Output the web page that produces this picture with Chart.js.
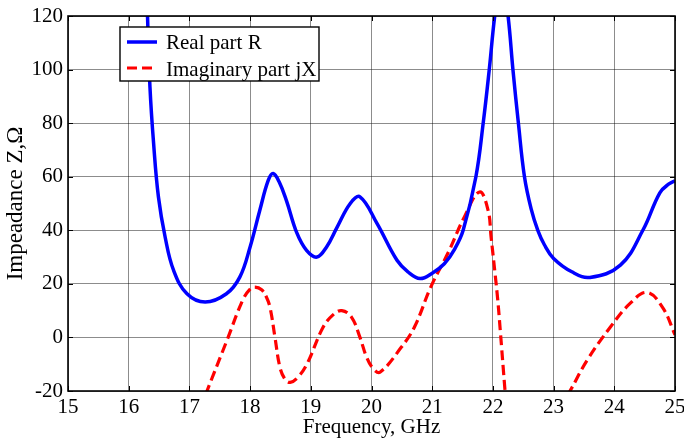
<!DOCTYPE html>
<html>
<head>
<meta charset="utf-8">
<script src="https://cdn.jsdelivr.net/npm/chart.js@4/dist/chart.umd.min.js"></script>
<style>
  html, body { margin: 0; padding: 0; background: #fff; }
  #wrap { width: 684px; height: 438px; }
</style>
</head>
<body>
<div id="wrap"><canvas id="impedanceChart" width="684" height="438"></canvas></div>
<script>
// Real part R (Ohm) vs frequency (GHz)
const realFreq = [16.27, 16.31, 16.35, 16.41, 16.49, 16.60, 16.74, 16.96, 17.26, 17.61, 17.83, 18.0, 18.16, 18.30, 18.38, 18.48, 18.6, 18.77, 18.93, 19.1, 19.26, 19.43, 19.65, 19.81, 20.09, 20.42, 20.6, 20.8, 21.0, 21.2, 21.37, 21.51, 21.72, 21.84, 21.94, 22.03, 22.14, 22.25, 22.33, 22.42, 22.52, 22.63, 22.74, 22.85, 23.0, 23.3, 23.6, 24.1, 24.47, 24.75, 24.9, 25.0];
const realR = [150, 120, 93.6, 72.5, 52.4, 37.5, 25, 16.3, 13.2, 16.3, 22.5, 33.8, 47.5, 58.7, 61.2, 58, 51, 39, 32.5, 30, 33.8, 41, 50, 52.5, 42.6, 28.8, 24.5, 22, 24, 27.5, 33, 40, 60, 80, 100, 120, 137, 120, 100, 80, 60, 48, 40, 34.5, 29.5, 24.5, 22.4, 27, 40, 54, 57.3, 58.5];

// Imaginary part jX (Ohm) vs frequency (GHz)
const imagFreq = [17.0, 17.29, 17.62, 17.88, 18.0, 18.08, 18.19, 18.27, 18.33, 18.41, 18.49, 18.57, 18.66, 18.79, 18.94, 19.2, 19.37, 19.51, 19.67, 19.81, 19.92, 20.03, 20.14, 20.49, 20.71, 20.98, 21.26, 21.53, 21.78, 21.92, 21.97, 22.03, 22.08, 22.12, 22.2, 22.3, 23.0, 23.27, 23.55, 23.93, 24.26, 24.54, 24.8, 25.0];
const imagX = [-37, -20, -1, 14, 18, 18.8, 17.8, 15, 11, 0, -11, -15.4, -16.8, -14.8, -9.8, 3.7, 8.5, 10, 7.6, 0, -7.4, -11.7, -13, -3.7, 4, 19, 31.5, 45, 54.3, 47.5, 37.5, 25, 14, 3, -20, -48, -30, -20, -8.6, 3.7, 12.7, 16.8, 11, 1];

const xTicks = [15, 16, 17, 18, 19, 20, 21, 22, 23, 24, 25];
const yTicks = [-20, 0, 20, 40, 60, 80, 100, 120];

const FONT = "'Liberation Serif', 'Times New Roman', serif";

const toPoints = (xs, ys) => xs.map((x, i) => ({ x, y: ys[i] }));

// box around the plot + inward tick marks (MATLAB style)
const axesBox = {
  id: "axesBox",
  afterDatasetsDraw(chart) {
    const { ctx, chartArea: a, scales } = chart;
    ctx.save();
    ctx.strokeStyle = "#000";
    ctx.lineWidth = 1;
    ctx.beginPath();
    xTicks.forEach(v => {
      const px = Math.round(scales.x.getPixelForValue(v)) + 0.5;
      ctx.moveTo(px, a.bottom); ctx.lineTo(px, a.bottom - 5);
      ctx.moveTo(px, a.top); ctx.lineTo(px, a.top + 5);
    });
    yTicks.forEach(v => {
      const py = Math.round(scales.y.getPixelForValue(v)) + 0.5;
      ctx.moveTo(a.left, py); ctx.lineTo(a.left + 5, py);
      ctx.moveTo(a.right, py); ctx.lineTo(a.right - 5, py);
    });
    ctx.stroke();
    ctx.lineWidth = 1.6;
    ctx.strokeRect(a.left, a.top, a.right - a.left, a.bottom - a.top);
    ctx.restore();
  }
};

// legend drawn inside the plot, top-left
const legendBox = {
  id: "legendBox",
  afterDatasetsDraw(chart) {
    const { ctx } = chart;
    ctx.save();
    ctx.fillStyle = "#fff";
    ctx.fillRect(120, 27, 199, 54);
    ctx.strokeStyle = "#000";
    ctx.lineWidth = 1.4;
    ctx.strokeRect(120, 27, 199, 54);
    chart.data.datasets.forEach((ds, i) => {
      const y = 42 + i * 26;
      ctx.strokeStyle = ds.borderColor;
      ctx.lineWidth = ds.borderWidth;
      ctx.setLineDash(ds.borderDash || []);
      ctx.beginPath();
      ctx.moveTo(127, y);
      ctx.lineTo(157, y);
      ctx.stroke();
      ctx.setLineDash([]);
      ctx.fillStyle = "#000";
      ctx.font = "21px " + FONT;
      ctx.textBaseline = "alphabetic";
      ctx.fillText(ds.label, 166, y + 7 + i);
    });
    ctx.restore();
  }
};

new Chart(document.getElementById("impedanceChart"), {
  type: "line",
  data: {
    datasets: [
      {
        label: "Real part R",
        data: toPoints(realFreq, realR),
        borderColor: "#0000ff",
        borderWidth: 3.5,
        tension: 0.4,
        pointRadius: 0,
        clip: 0
      },
      {
        label: "Imaginary part jX",
        data: toPoints(imagFreq, imagX),
        borderColor: "#ff0000",
        borderWidth: 3.2,
        borderDash: [10, 5],
        tension: 0.4,
        pointRadius: 0,
        clip: 0
      }
    ]
  },
  options: {
    responsive: false,
    animation: false,
    events: [],
    layout: { padding: { top: 16, right: 9, left: 0, bottom: 0 } },
    plugins: { legend: { display: false }, tooltip: { enabled: false } },
    scales: {
      x: {
        type: "linear",
        min: 15,
        max: 25,
        afterBuildTicks: s => { s.ticks = xTicks.map(value => ({ value })); },
        afterFit: s => { s.height = 47; s.paddingLeft = 0; s.paddingRight = 0; },
        grid: { color: "rgba(0,0,0,0.45)", lineWidth: 1, drawTicks: false },
        border: { display: false },
        ticks: { color: "#000", padding: 4, maxRotation: 0, font: { family: FONT, size: 21 } },
        title: {
          display: true,
          text: "Frequency, GHz",
          color: "#000",
          padding: { top: 0, bottom: 0 },
          font: { family: FONT, size: 21, lineHeight: 1 }
        }
      },
      y: {
        min: -20,
        max: 120,
        afterBuildTicks: s => { s.ticks = yTicks.map(value => ({ value })); },
        afterFit: s => { s.width = 68; s.paddingTop = 0; s.paddingBottom = 0; },
        grid: { color: "rgba(0,0,0,0.45)", lineWidth: 1, drawTicks: false },
        border: { display: false },
        ticks: { color: "#000", padding: 5, font: { family: FONT, size: 21 } },
        title: {
          display: true,
          text: "Impeadance Z,Ω",
          color: "#000",
          padding: { top: 4, bottom: 0 },
          font: { family: FONT, size: 23, lineHeight: 1 }
        }
      }
    }
  },
  plugins: [axesBox, legendBox]
});
</script>
</body>
</html>
